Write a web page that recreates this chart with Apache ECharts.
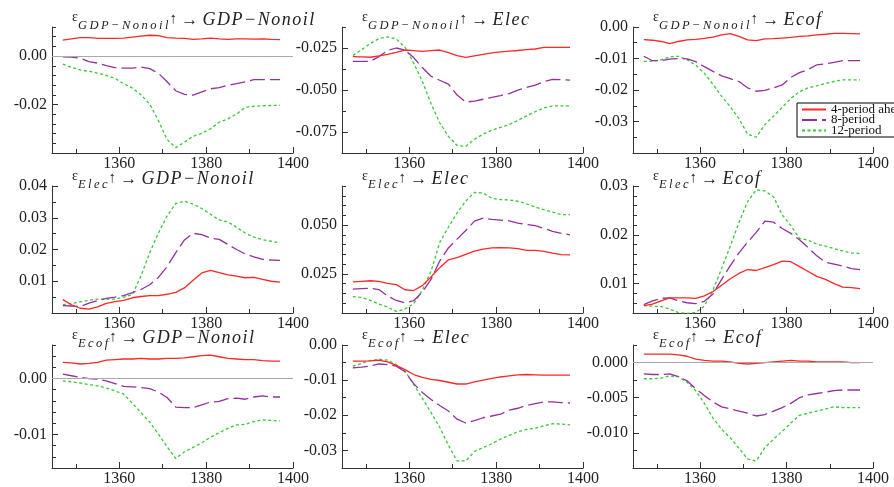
<!DOCTYPE html>
<html>
<head>
<meta charset="utf-8">
<script src="https://cdn.jsdelivr.net/npm/echarts@6/dist/echarts.min.js"></script>
<style>
  html, body { margin: 0; padding: 0; background: #fff; }
  #chart { width: 894px; height: 487px; }
</style>
</head>
<body>
<div id="chart"></div>
<script>
// x positions (period)
const years = [1347, 1349, 1351, 1353, 1355, 1357, 1359, 1361, 1363, 1365, 1367, 1369, 1371,
  1373, 1375, 1377, 1379, 1381, 1383, 1385, 1387, 1389, 1391, 1393, 1395, 1397];
const horizons = ['4-period ahead', '8-period', '12-period'];
const shocks = ['GDP\u2212Nonoil', 'Elec', 'Ecof'];
const responses = ['GDP\u2212Nonoil', 'Elec', 'Ecof'];

// row 1: shock to GDP-Nonoil
const nonoilNonoil4 = [.0066, .0071, .0076, .0076, .0073, .0073, .0073, .0074, .0078, .0082, .0086, .0084, .0076, .0074, .0073, .0069, .0071, .0074, .0071, .0069, .0071, .0071, .0070, .0071, .0069, .0068];
const nonoilNonoil8 = [-.0003, -.0004, -.0009, -.0023, -.0029, -.0039, -.0048, -.0050, -.0050, -.0045, -.0052, -.0071, -.0106, -.0143, -.0158, -.0161, -.0148, -.0135, -.0130, -.0121, -.0114, -.0106, -.0097, -.0097, -.0097, -.0097];
const nonoilNonoil12 = [-.0033, -.0047, -.0057, -.0063, -.0070, -.0080, -.0092, -.0114, -.0132, -.0160, -.0198, -.0266, -.0344, -.0378, -.0355, -.0331, -.0319, -.0300, -.0273, -.0259, -.0239, -.0212, -.0207, -.0205, -.0204, -.0203];

const nonoilElec4 = [-.0301, -.0303, -.0305, -.0297, -.0288, -.0276, -.0262, -.0266, -.0270, -.0266, -.0262, -.0277, -.0295, -.0306, -.0297, -.0288, -.0279, -.0273, -.0269, -.0265, -.0260, -.0256, -.0246, -.0246, -.0246, -.0246];
const nonoilElec8 = [-.0330, -.0330, -.0330, -.0301, -.0265, -.0250, -.0262, -.0307, -.0366, -.0418, -.0442, -.0465, -.0530, -.0572, -.0566, -.0555, -.0544, -.0533, -.0521, -.0501, -.0484, -.0471, -.0450, -.0437, -.0439, -.0441];
const nonoilElec12 = [-.0295, -.0260, -.0224, -.0194, -.0184, -.0196, -.0246, -.0339, -.0448, -.0581, -.0695, -.0776, -.0830, -.0836, -.0793, -.0763, -.0739, -.0723, -.0706, -.0681, -.0654, -.0629, -.0607, -.0594, -.0594, -.0594];

const nonoilEcof4 = [-.0040, -.0042, -.0046, -.0053, -.0046, -.0041, -.0039, -.0036, -.0032, -.0025, -.0021, -.0030, -.0041, -.0043, -.0038, -.0037, -.0035, -.0033, -.0030, -.0028, -.0025, -.0023, -.0020, -.0020, -.0021, -.0022];
const nonoilEcof8 = [-.0093, -.0107, -.0107, -.0102, -.0100, -.0101, -.0110, -.0126, -.0141, -.0155, -.0164, -.0173, -.0193, -.0204, -.0201, -.0193, -.0184, -.0160, -.0145, -.0135, -.0120, -.0117, -.0112, -.0107, -.0107, -.0107];
const nonoilEcof12 = [-.0109, -.0109, -.0104, -.0095, -.0093, -.0104, -.0121, -.0147, -.0182, -.0220, -.0253, -.0291, -.0340, -.0350, -.0310, -.0283, -.0255, -.0227, -.0205, -.0193, -.0187, -.0179, -.0173, -.0168, -.0168, -.0168];

// row 2: shock to Elec
const elecNonoil4 = [.0042, .0026, .0015, .0012, .0019, .0030, .0036, .0040, .0048, .0052, .0055, .0055, .0059, .0065, .0079, .0103, .0126, .0134, .0127, .0120, .0116, .0111, .0112, .0106, .0100, .0097];
const elecNonoil8 = [.0023, .0022, .0020, .0031, .0039, .0046, .0050, .0055, .0064, .0074, .0089, .0112, .0146, .0190, .0230, .0251, .0247, .0236, .0232, .0216, .0200, .0186, .0177, .0169, .0167, .0166];
const elecNonoil12 = [.0026, .0030, .0035, .0040, .0044, .0044, .0044, .0050, .0058, .0117, .0190, .0251, .0306, .0345, .0352, .0343, .0329, .0311, .0293, .0287, .0270, .0252, .0239, .0231, .0226, .0221];

const elecElec4 = [.0209, .0212, .0215, .0212, .0202, .0195, .0169, .0165, .0190, .0234, .0282, .0322, .0333, .0350, .0367, .0377, .0383, .0384, .0383, .0379, .0371, .0371, .0365, .0356, .0349, .0347];
const elecElec8 = [.0172, .0175, .0177, .0170, .0137, .0114, .0102, .0113, .0157, .0222, .0316, .0383, .0428, .0472, .0520, .0536, .0529, .0525, .0521, .0510, .0503, .0497, .0483, .0468, .0458, .0450];
const elecElec12 = [.0134, .0130, .0115, .0096, .0080, .0058, .0071, .0097, .0167, .0263, .0410, .0489, .0562, .0623, .0667, .0664, .0637, .0630, .0629, .0622, .0609, .0592, .0579, .0567, .0553, .0553];

const elecEcof4 = [.0055, .0058, .0065, .0071, .0071, .0071, .0070, .0075, .0084, .0097, .0110, .0121, .0129, .0127, .0133, .0139, .0146, .0145, .0135, .0125, .0115, .0109, .0100, .0093, .0092, .0090];
const elecEcof8 = [.0057, .0065, .0070, .0071, .0065, .0061, .0059, .0064, .0079, .0109, .0137, .0163, .0185, .0205, .0228, .0226, .0213, .0203, .0190, .0174, .0157, .0144, .0140, .0136, .0131, .0129];
const elecEcof12 = [.0055, .0054, .0053, .0048, .0041, .0039, .0041, .0054, .0087, .0131, .0177, .0225, .0268, .0292, .0290, .0278, .0241, .0219, .0193, .0189, .0181, .0177, .0172, .0167, .0163, .0162];

// row 3: shock to Ecof
const ecofNonoil4 = [.0029, .0028, .0026, .0027, .0029, .0033, .0034, .0035, .0035, .0036, .0035, .0035, .0036, .0036, .0037, .0039, .0041, .0042, .0039, .0036, .0035, .0034, .0034, .0032, .0031, .0031];
const ecofNonoil8 = [.0008, .0005, .0002, .0000, -.0001, -.0004, -.0009, -.0014, -.0015, -.0016, -.0018, -.0024, -.0034, -.0051, -.0052, -.0052, -.0047, -.0042, -.0041, -.0036, -.0035, -.0037, -.0033, -.0031, -.0033, -.0033];
const ecofNonoil12 = [-.0004, -.0006, -.0008, -.0011, -.0013, -.0017, -.0022, -.0028, -.0044, -.0061, -.0078, -.0099, -.0122, -.0143, -.0131, -.0123, -.0115, -.0105, -.0097, -.0089, -.0083, -.0082, -.0077, -.0074, -.0075, -.0076];

const ecofElec4 = [-.0046, -.0046, -.0045, -.0043, -.0048, -.0058, -.0070, -.0084, -.0092, -.0098, -.0101, -.0106, -.0111, -.0111, -.0105, -.0100, -.0095, -.0091, -.0088, -.0085, -.0084, -.0085, -.0086, -.0086, -.0086, -.0086];
const ecofElec8 = [-.0065, -.0063, -.0060, -.0054, -.0056, -.0060, -.0076, -.0110, -.0135, -.0155, -.0172, -.0188, -.0211, -.0222, -.0215, -.0207, -.0202, -.0197, -.0185, -.0180, -.0172, -.0167, -.0162, -.0162, -.0164, -.0165];
const ecofElec12 = [-.0061, -.0052, -.0044, -.0041, -.0043, -.0056, -.0074, -.0112, -.0152, -.0192, -.0234, -.0285, -.0330, -.0330, -.0303, -.0292, -.0281, -.0268, -.0257, -.0247, -.0240, -.0237, -.0230, -.0224, -.0225, -.0227];

const ecofEcof4 = [.0012, .0012, .0012, .0012, .0011, .0009, .0005, .0003, .0002, .0002, .0001, -.0001, -.0002, -.0001, .0000, .0001, .0002, .0003, .0002, .0002, .0001, .0001, .0001, .0001, .0000, .0000];
const ecofEcof8 = [-.0016, -.0017, -.0017, -.0016, -.0020, -.0026, -.0037, -.0047, -.0056, -.0063, -.0066, -.0069, -.0072, -.0076, -.0074, -.0069, -.0064, -.0058, -.0050, -.0046, -.0044, -.0042, -.0040, -.0039, -.0039, -.0039];
const ecofEcof12 = [-.0023, -.0023, -.0022, -.0019, -.0020, -.0028, -.0040, -.0058, -.0079, -.0095, -.0107, -.0122, -.0137, -.0140, -.0121, -.0109, -.0098, -.0086, -.0075, -.0072, -.0069, -.0066, -.0063, -.0064, -.0064, -.0064];

const panelData = [
  [nonoilNonoil4, nonoilNonoil8, nonoilNonoil12],
  [nonoilElec4, nonoilElec8, nonoilElec12],
  [nonoilEcof4, nonoilEcof8, nonoilEcof12],
  [elecNonoil4, elecNonoil8, elecNonoil12],
  [elecElec4, elecElec8, elecElec12],
  [elecEcof4, elecEcof8, elecEcof12],
  [ecofNonoil4, ecofNonoil8, ecofNonoil12],
  [ecofElec4, ecofElec8, ecofElec12],
  [ecofEcof4, ecofEcof8, ecofEcof12]
];

// tick labels
const xLabels = [1360, 1380, 1400];
const xMinorTicks = [1350, 1370, 1390];
const yLabels = [
  [0, -0.02], [-0.025, -0.05, -0.075], [0, -0.01, -0.02, -0.03],
  [0.01, 0.02, 0.03, 0.04], [0.025, 0.05], [0.01, 0.02, 0.03],
  [0, -0.01], [0, -0.01, -0.02, -0.03], [0, -0.005, -0.01]
];
const yDecimals = [2, 3, 2, 2, 3, 2, 2, 2, 3];

// axis extents and minor tick step per panel
const yRange = [
  [-0.04, 0.012], [-0.0875, -0.0125], [-0.04, 0],
  [0, 0.04], [0.005, 0.07], [0.004, 0.03],
  [-0.016, 0.006], [-0.035, 0], [-0.015, 0.0025]
];
const yStep = [0.004, 0.0125, 0.005, 0.005, 0.005, 0.002, 0.002, 0.005, 0.0025];
const zeroLine = [true, false, false, false, false, false, true, false, true];

const colLeft = [52, 342, 633];
const colWidth = [241, 241, 240];
const rowTop = [27, 186, 345];
const rowHeight = [126, 127, 127];

const FONT = "'Liberation Serif', 'Times New Roman', serif";
const HAIR = '\u200a', THIN = '\u2009';
const spaced = (s, sp) => s.split('').join(sp);

const lineStyles = [
  { color: '#ff2626', type: 'solid' },
  { color: '#94309c', type: [15, 5] },
  { color: '#38c838', type: [3, 2.5] }
];

function minorTicks(min, max, step) {
  let out = [];
  let k0 = Math.ceil(min / step - 1e-6), k1 = Math.floor(max / step + 1e-6);
  for (let k = k0; k <= k1; k++) out.push(+(k * step).toFixed(6));
  return out;
}

let grids = [], xAxes = [], yAxes = [], titles = [], series = [];

for (let i = 0; i < 9; i++) {
  const r = Math.floor(i / 3), c = i % 3;
  grids.push({ left: colLeft[c], top: rowTop[r], width: colWidth[c], height: rowHeight[r] });

  titles.push({
    left: colLeft[c] + 15, top: rowTop[r] - 23,
    text: '{e|\u03b5}{s|' + spaced(shocks[r], THIN) + '}{a|\u2191}{b| \u2192 }{t|' + spaced(responses[c], HAIR) + '}',
    textStyle: {
      fontWeight: 'normal',
      rich: {
        e: { fontFamily: FONT, fontSize: 14, fontWeight: 'normal', color: '#222', padding: [0, 0, 6, 0] },
        s: { fontFamily: FONT, fontSize: 12.5, fontWeight: 'normal', fontStyle: 'italic', color: '#222', padding: [10, 0, 0, 0] },
        a: { fontFamily: FONT, fontSize: 15, fontWeight: 'normal', color: '#222', padding: [0, 0, 3, 1] },
        b: { fontFamily: FONT, fontSize: 17, fontWeight: 'normal', color: '#222' },
        t: { fontFamily: FONT, fontSize: 18, fontWeight: 'normal', fontStyle: 'italic', color: '#222' }
      }
    }
  });

  const axisColor = '#333';
  xAxes.push({
    gridIndex: i, type: 'value', min: 1344.5, max: 1400, position: 'bottom',
    axisLine: { onZero: false, lineStyle: { color: axisColor } },
    axisTick: { inside: true, length: 6, lineStyle: { color: axisColor }, customValues: xLabels },
    axisLabel: { customValues: xLabels, fontFamily: FONT, fontSize: 16, color: '#222', margin: 3,
      formatter: v => String(v) },
    splitLine: { show: false }
  });
  xAxes.push({
    gridIndex: i, type: 'value', min: 1344.5, max: 1400, position: 'bottom',
    axisLine: { show: false, onZero: false },
    axisTick: { inside: true, length: 4, lineStyle: { color: axisColor }, customValues: xMinorTicks },
    axisLabel: { show: false },
    splitLine: { show: false }
  });

  const [ymin, ymax] = yRange[i];
  yAxes.push({
    gridIndex: i, type: 'value', min: ymin, max: ymax, position: 'left',
    axisLine: { show: true, onZero: false, lineStyle: { color: axisColor } },
    axisTick: { show: true, inside: true, length: 6, lineStyle: { color: axisColor }, customValues: yLabels[i] },
    axisLabel: {
      customValues: yLabels[i], fontFamily: FONT, fontSize: 16, color: '#222', margin: 5,
      formatter: (v => v.toFixed(yDecimals[i]))
    },
    splitLine: { show: false }
  });
  yAxes.push({
    gridIndex: i, type: 'value', min: ymin, max: ymax, position: 'left',
    axisLine: { show: false, onZero: false },
    axisTick: { show: true, inside: true, length: 4, lineStyle: { color: axisColor }, customValues: minorTicks(ymin, ymax, yStep[i]) },
    axisLabel: { show: false },
    splitLine: { show: false }
  });

  for (let h = 0; h < 3; h++) {
    const s = {
      name: horizons[h], type: 'line',
      xAxisIndex: 2 * i, yAxisIndex: 2 * i,
      data: years.map((yr, k) => [yr, panelData[i][h][k]]),
      symbol: 'none', showSymbol: false,
      lineStyle: { color: lineStyles[h].color, type: lineStyles[h].type, width: 1.3 },
      itemStyle: { color: lineStyles[h].color },
      z: 3 - h
    };
    if (h === 0 && zeroLine[i]) {
      s.markLine = {
        silent: true, symbol: ['none', 'none'], label: { show: false },
        lineStyle: { color: '#aaa', type: 'solid', width: 1 },
        data: [{ yAxis: 0 }]
      };
    }
    series.push(s);
  }
}

const chart = echarts.init(document.getElementById('chart'));
chart.setOption({
  animation: false,
  backgroundColor: '#fff',
  title: titles,
  grid: grids,
  xAxis: xAxes,
  yAxis: yAxes,
  legend: {
    data: horizons, orient: 'vertical', left: 797, top: 103,
    itemWidth: 24, itemHeight: 6, itemGap: -2.5,
    padding: [0, 6, 0, 4],
    itemStyle: { opacity: 0 },
    borderColor: '#000', borderWidth: 1, backgroundColor: '#fff', borderRadius: 0,
    textStyle: { fontFamily: FONT, fontSize: 13, color: '#111', lineHeight: 9 }
  },
  series: series
});
</script>
</body>
</html>
